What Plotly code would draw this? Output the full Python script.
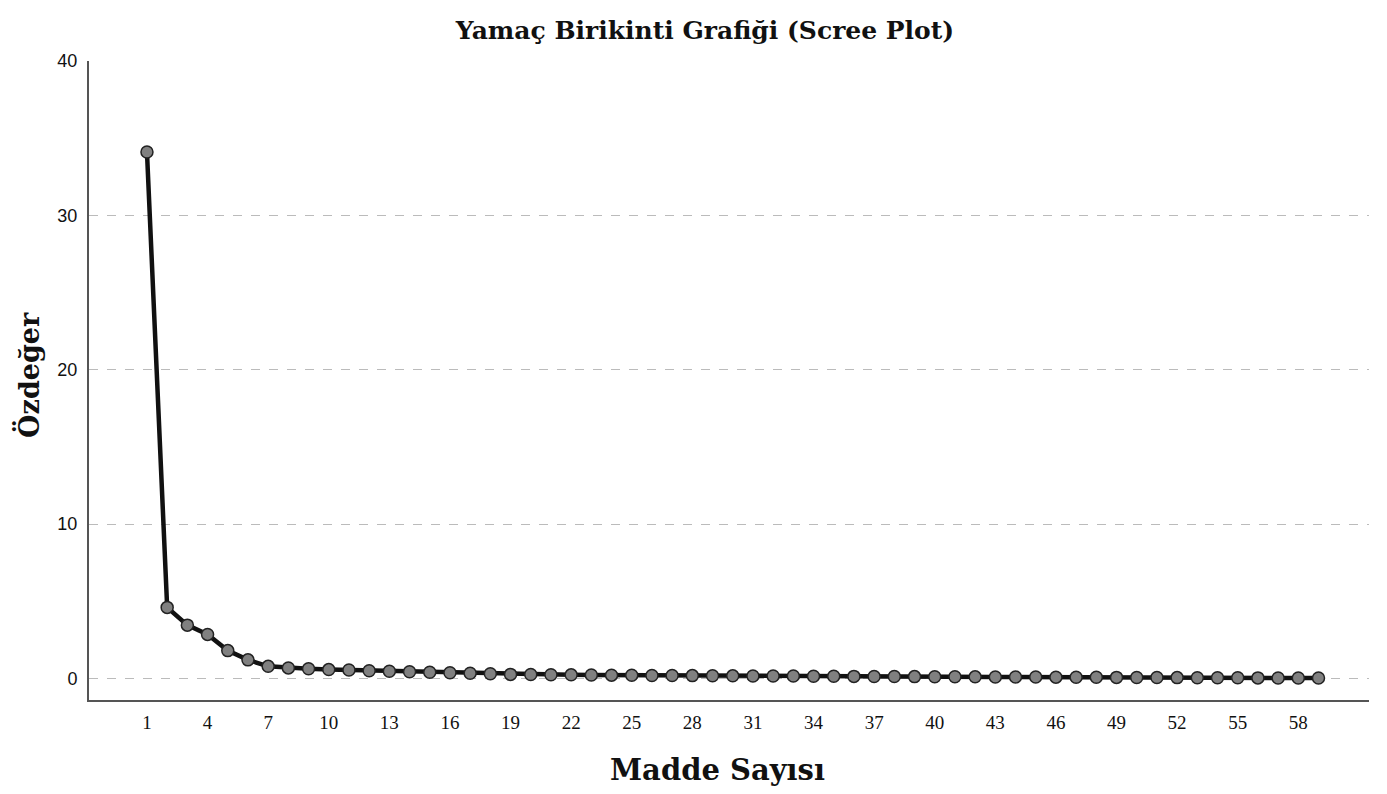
import plotly.graph_objects as go

# eigenvalues
madde = list(range(1, 60))
ozdeger = [34.1, 4.6, 3.45, 2.85, 1.8, 1.2, 0.78, 0.68, 0.62, 0.57,
           0.54, 0.49, 0.46, 0.43, 0.40, 0.36, 0.33, 0.30, 0.26, 0.25,
           0.24, 0.23, 0.22, 0.21, 0.20, 0.19, 0.185, 0.18, 0.17, 0.165,
           0.16, 0.155, 0.15, 0.14, 0.135, 0.13, 0.125, 0.12, 0.115, 0.11,
           0.105, 0.10, 0.095, 0.09, 0.085, 0.08, 0.075, 0.07, 0.065, 0.06,
           0.055, 0.05, 0.045, 0.04, 0.037, 0.033, 0.03, 0.025, 0.02]
x_ticks = list(range(1, 59, 3))
y_ticks = [0, 10, 20, 30, 40]

serif = "Liberation Serif, Times New Roman, serif"
wide_serif = "DejaVu Serif, serif"
sans = "Liberation Sans, Arial, sans-serif"

fig = go.Figure()
fig.add_trace(go.Scatter(
    x=madde, y=ozdeger, mode="lines+markers",
    line=dict(color="#111111", width=4.5),
    marker=dict(size=12, color="#808080", line=dict(color="#222222", width=1.5)),
    showlegend=False,
))

# page body has an 8px offset, margins account for it
fig.update_layout(
    width=1387, height=794,
    margin=dict(l=81, r=26, t=53, b=102),
    plot_bgcolor="white", paper_bgcolor="white",
    font=dict(family=serif, color="#111111"),
    title=dict(text="<b>Yamaç Birikinti Grafiği (Scree Plot)</b>",
               x=0.5025, xanchor="center", y=0.972, yanchor="middle",
               font=dict(size=25, family=wide_serif)),
)
fig.update_xaxes(
    range=[-1.87, 61.5], tickvals=x_ticks, ticktext=[str(v) for v in x_ticks],
    showgrid=False, zeroline=False, showline=True, linecolor="#555555", linewidth=2,
    ticks="", ticklabelstandoff=4, tickfont=dict(size=19, family=serif),
)
fig.update_yaxes(
    range=[-1.4, 40], tickvals=y_ticks,
    showgrid=True, gridcolor="#bbbbbb", griddash="dash", gridwidth=1,
    zeroline=False, showline=True, linecolor="#555555", linewidth=2,
    ticks="", ticklabelstandoff=6, tickfont=dict(size=18, family=sans),
)

# axis titles as annotations so they sit where the original has them
fig.add_annotation(text="<b>Madde Sayısı</b>", xref="paper", yref="paper",
                   x=0.4914, y=-0.1095, xanchor="center", yanchor="middle",
                   showarrow=False, font=dict(size=29, family=wide_serif))
fig.add_annotation(text="<b>Özdeğer</b>", xref="paper", yref="paper",
                   x=-0.0477, y=0.5086, xanchor="center", yanchor="middle",
                   textangle=-90, showarrow=False, font=dict(size=27, family=wide_serif))

fig.write_html("out.html")
